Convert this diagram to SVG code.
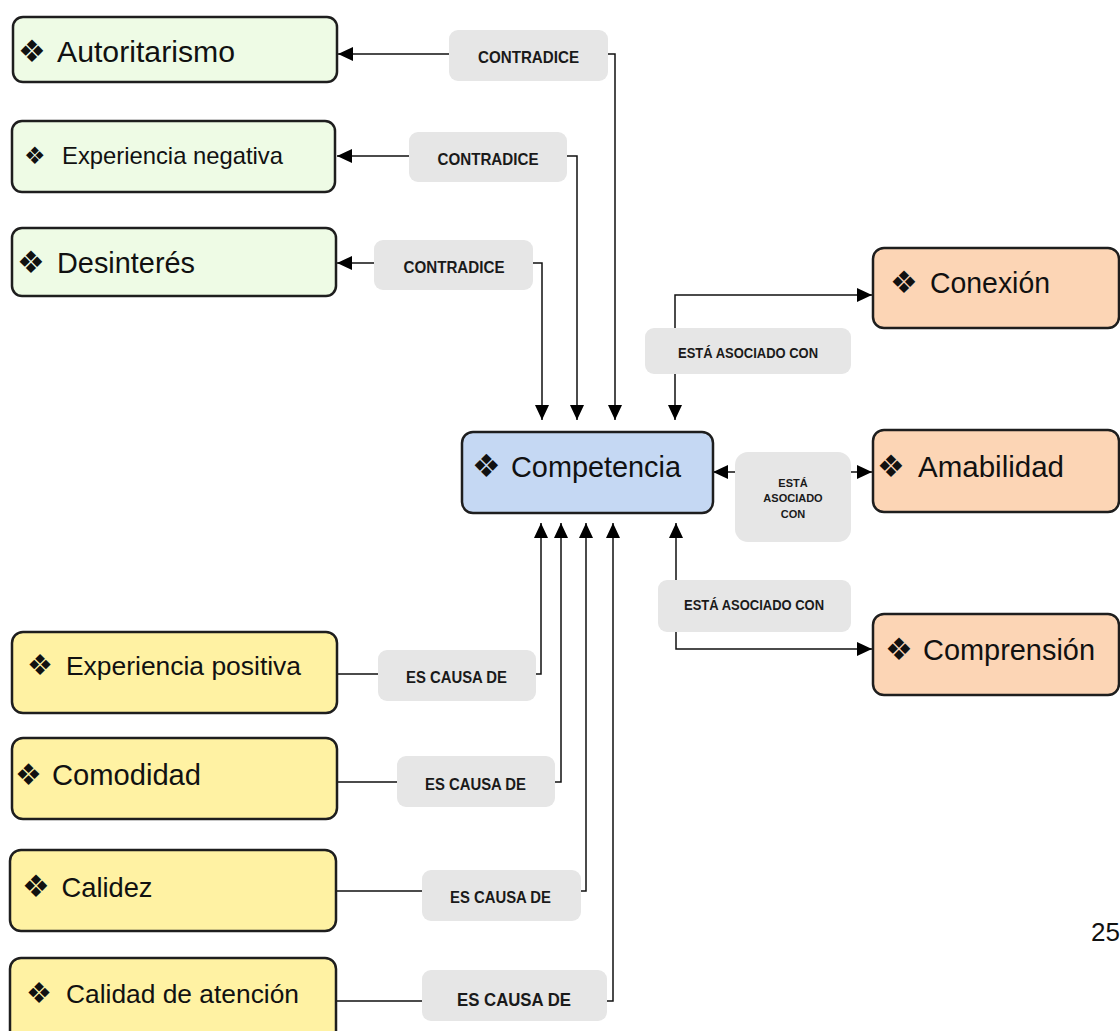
<svg xmlns="http://www.w3.org/2000/svg" width="1120" height="1031" viewBox="0 0 1120 1031">
<style>
.box{stroke:#1e1e1e;stroke-width:2.5}
.g{fill:#eefbe5}.y{fill:#fff2a3}.o{fill:#fcd5b5}.b{fill:#c5d8f3}
.lbl{fill:#e6e6e6}
.t{font-family:"Liberation Sans",Arial,sans-serif;fill:#111}
.bul{font-family:"DejaVu Sans",sans-serif;fill:#111}
.lt{font-family:"Liberation Sans",Arial,sans-serif;font-weight:bold;fill:#1a1a1a;text-anchor:middle}
.c{fill:none;stroke:#111;stroke-width:1.5}
</style>
<defs>
<marker id="ah" markerUnits="userSpaceOnUse" markerWidth="16" markerHeight="15" refX="15" refY="7" orient="auto-start-reverse">
<path d="M0,0 L15,7 L0,14 z" fill="#000"/>
</marker>
</defs>
<rect width="1120" height="1031" fill="#fff"/>
<g id="connectors">
<path class="c" d="M338,54 H615 V420" marker-start="url(#ah)" marker-end="url(#ah)"/>
<path class="c" d="M337,156 H577 V420" marker-start="url(#ah)" marker-end="url(#ah)"/>
<path class="c" d="M337,263 H542 V420" marker-start="url(#ah)" marker-end="url(#ah)"/>
<path class="c" d="M675,420 V295 H872" marker-start="url(#ah)" marker-end="url(#ah)"/>
<path class="c" d="M713,472 H872" marker-start="url(#ah)" marker-end="url(#ah)"/>
<path class="c" d="M676,523 V649 H872" marker-start="url(#ah)" marker-end="url(#ah)"/>
<path class="c" d="M337,674 H541 V523" marker-end="url(#ah)"/>
<path class="c" d="M337,782 H561 V523" marker-end="url(#ah)"/>
<path class="c" d="M336,891 H586 V523" marker-end="url(#ah)"/>
<path class="c" d="M336,1001 H613 V523" marker-end="url(#ah)"/>
</g>
<g id="labels">
<g id="lbl-contradice-1"><rect class="lbl" x="449" y="30" width="159" height="51" rx="9"/><text class="lt" x="528.5" y="63" font-size="16.5" textLength="101" lengthAdjust="spacingAndGlyphs">CONTRADICE</text></g>
<g id="lbl-contradice-2"><rect class="lbl" x="409" y="132" width="158" height="50" rx="9"/><text class="lt" x="488" y="165" font-size="16.5" textLength="101" lengthAdjust="spacingAndGlyphs">CONTRADICE</text></g>
<g id="lbl-contradice-3"><rect class="lbl" x="374" y="240" width="159" height="50" rx="9"/><text class="lt" x="454" y="273" font-size="16.5" textLength="101" lengthAdjust="spacingAndGlyphs">CONTRADICE</text></g>
<g id="lbl-asociado-1"><rect class="lbl" x="645" y="328" width="206" height="46" rx="9"/><text class="lt" x="748" y="358" font-size="14" textLength="140" lengthAdjust="spacingAndGlyphs">ESTÁ ASOCIADO CON</text></g>
<g id="lbl-asociado-2"><rect class="lbl" x="735" y="452" width="116" height="90" rx="13"/>
<text class="lt" x="793" y="487" font-size="11">ESTÁ</text>
<text class="lt" x="793" y="502" font-size="11">ASOCIADO</text>
<text class="lt" x="793" y="518" font-size="11">CON</text></g>
<g id="lbl-asociado-3"><rect class="lbl" x="658" y="580" width="193" height="52" rx="9"/><text class="lt" x="754" y="610" font-size="14" textLength="140" lengthAdjust="spacingAndGlyphs">ESTÁ ASOCIADO CON</text></g>
<g id="lbl-causa-1"><rect class="lbl" x="378" y="650" width="158" height="51" rx="9"/><text class="lt" x="456.5" y="683" font-size="16" textLength="101" lengthAdjust="spacingAndGlyphs">ES CAUSA DE</text></g>
<g id="lbl-causa-2"><rect class="lbl" x="397" y="756" width="158" height="51" rx="9"/><text class="lt" x="475.5" y="790" font-size="16" textLength="101" lengthAdjust="spacingAndGlyphs">ES CAUSA DE</text></g>
<g id="lbl-causa-3"><rect class="lbl" x="422" y="870" width="159" height="51" rx="9"/><text class="lt" x="500.5" y="903" font-size="16" textLength="101" lengthAdjust="spacingAndGlyphs">ES CAUSA DE</text></g>
<g id="lbl-causa-4"><rect class="lbl" x="422" y="970" width="185" height="51" rx="9"/><text class="lt" x="514" y="1006" font-size="18.5" textLength="114" lengthAdjust="spacingAndGlyphs">ES CAUSA DE</text></g>
</g>
<g id="node-autoritarismo"><rect class="box g" x="13" y="17" width="324" height="65" rx="10"/><text class="bul" x="18" y="62" font-size="31">❖</text><text class="t" x="57" y="62" font-size="29" textLength="178" lengthAdjust="spacingAndGlyphs">Autoritarismo</text></g>
<g id="node-experiencia-negativa"><rect class="box g" x="12" y="121" width="323" height="71" rx="10"/><text class="bul" x="24" y="164" font-size="24">❖</text><text class="t" x="62" y="164" font-size="24" textLength="221" lengthAdjust="spacingAndGlyphs">Experiencia negativa</text></g>
<g id="node-desinteres"><rect class="box g" x="12" y="228" width="324" height="68" rx="10"/><text class="bul" x="17" y="273" font-size="31">❖</text><text class="t" x="57" y="273" font-size="29" textLength="138" lengthAdjust="spacingAndGlyphs">Desinterés</text></g>
<g id="node-competencia"><rect class="box b" x="462" y="432" width="251" height="81" rx="11"/><text class="bul" x="472" y="477" font-size="32">❖</text><text class="t" x="511" y="477" font-size="29" textLength="170" lengthAdjust="spacingAndGlyphs">Competencia</text></g>
<g id="node-conexion"><rect class="box o" x="873" y="248" width="246" height="80" rx="11"/><text class="bul" x="890" y="293" font-size="31">❖</text><text class="t" x="930" y="293" font-size="29" textLength="120" lengthAdjust="spacingAndGlyphs">Conexión</text></g>
<g id="node-amabilidad"><rect class="box o" x="873" y="430" width="246" height="82" rx="11"/><text class="bul" x="877" y="477" font-size="31">❖</text><text class="t" x="918" y="477" font-size="29" textLength="146" lengthAdjust="spacingAndGlyphs">Amabilidad</text></g>
<g id="node-comprension"><rect class="box o" x="873" y="614" width="246" height="81" rx="11"/><text class="bul" x="885" y="660" font-size="31">❖</text><text class="t" x="923" y="660" font-size="29" textLength="172" lengthAdjust="spacingAndGlyphs">Comprensión</text></g>
<g id="node-experiencia-positiva"><rect class="box y" x="12" y="632" width="325" height="81" rx="11"/><text class="bul" x="27" y="675" font-size="29">❖</text><text class="t" x="66" y="675" font-size="26" textLength="235" lengthAdjust="spacingAndGlyphs">Experiencia positiva</text></g>
<g id="node-comodidad"><rect class="box y" x="12" y="738" width="325" height="81" rx="11"/><text class="bul" x="15" y="785" font-size="30">❖</text><text class="t" x="52" y="785" font-size="29" textLength="149" lengthAdjust="spacingAndGlyphs">Comodidad</text></g>
<g id="node-calidez"><rect class="box y" x="10" y="850" width="326" height="81" rx="11"/><text class="bul" x="22" y="897" font-size="31">❖</text><text class="t" x="61.5" y="897" font-size="28" textLength="91" lengthAdjust="spacingAndGlyphs">Calidez</text></g>
<g id="node-calidad-atencion"><rect class="box y" x="10" y="958" width="326" height="90" rx="11"/><text class="bul" x="26" y="1003" font-size="29">❖</text><text class="t" x="66" y="1003" font-size="26" textLength="233" lengthAdjust="spacingAndGlyphs">Calidad de atención</text></g>
<text class="t" x="1091" y="941" font-size="26">25</text>
</svg>
